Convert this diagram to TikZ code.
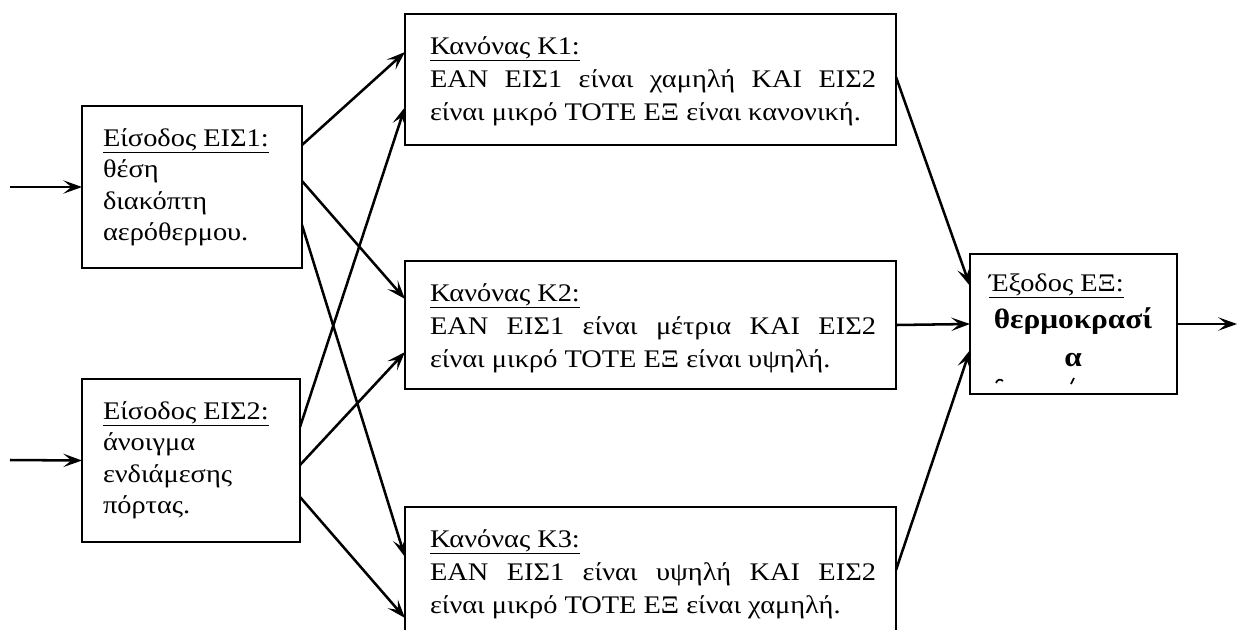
\documentclass[tikz,border=0pt]{standalone}
\usepackage{fontspec}
\setmainfont{Liberation Serif}[FakeStretch=1.12]
\usetikzlibrary{arrows.meta,calc}

\newcommand{\justline}[1]{\makebox[334.5pt][s]{#1}}

\tikzset{
  box/.style={draw, line width=1.4pt, inner sep=0pt, outer sep=0pt, anchor=north west},
  txt/.style={anchor=base west, inner sep=0pt, outer sep=0pt,
              font=\fontsize{19}{24}\selectfont},
  ctxt/.style={anchor=base, inner sep=0pt, outer sep=0pt,
              font=\fontsize{21}{24}\selectfont\bfseries},
  link/.style={line width=1.9pt, -{Stealth[length=14pt,width=10pt,inset=6pt]}},
}

\begin{document}
\begin{tikzpicture}[x=0.75pt,y=-0.75pt]
  \clip (0,0) rectangle (1237,629);

  % boxes
  \node[box, minimum width=220*0.75pt, minimum height=162*0.75pt] (in1) at (82,106) {};
  \node[box, minimum width=218*0.75pt, minimum height=163*0.75pt] (in2) at (82,379) {};
  \node[box, minimum width=491*0.75pt, minimum height=131*0.75pt] (k1) at (405,14) {};
  \node[box, minimum width=491*0.75pt, minimum height=128*0.75pt] (k2) at (405,261) {};
  \node[box, minimum width=491*0.75pt, minimum height=150*0.75pt] (k3) at (405,507) {};
  \node[box, minimum width=207*0.75pt, minimum height=140*0.75pt] (out) at (970,254) {};

  % input texts
  \node[txt] (in1a) at (103,146) {\underline{Είσοδος ΕΙΣ1:}};
  \node[txt] (in1b) at (103,177.5) {θέση};
  \node[txt] (in1c) at (103,209) {διακόπτη};
  \node[txt] (in1d) at (103,240.5) {αερόθερμου.};

  \node[txt] (in2a) at (103,419) {\underline{Είσοδος ΕΙΣ2:}};
  \node[txt] (in2b) at (103,450.5) {άνοιγμα};
  \node[txt] (in2c) at (103,482) {ενδιάμεσης};
  \node[txt] (in2d) at (103,513.5) {πόρτας.};

  % rule texts
  \node[txt] (k1a) at (430,54) {\underline{Κανόνας Κ1:}};
  \node[txt] (k1b) at (430,87) {\justline{ΕΑΝ ΕΙΣ1 είναι χαμηλή ΚΑΙ ΕΙΣ2}};
  \node[txt] (k1c) at (430,120) {είναι μικρό ΤΟΤΕ ΕΞ είναι κανονική.};

  \node[txt] (k2a) at (430,301) {\underline{Κανόνας Κ2:}};
  \node[txt] (k2b) at (430,334) {\justline{ΕΑΝ ΕΙΣ1 είναι μέτρια ΚΑΙ ΕΙΣ2}};
  \node[txt] (k2c) at (430,367) {είναι μικρό ΤΟΤΕ ΕΞ είναι υψηλή.};

  \node[txt] (k3a) at (430,547) {\underline{Κανόνας Κ3:}};
  \node[txt] (k3b) at (430,580) {\justline{ΕΑΝ ΕΙΣ1 είναι υψηλή ΚΑΙ ΕΙΣ2}};
  \node[txt] (k3c) at (430,613) {είναι μικρό ΤΟΤΕ ΕΞ είναι χαμηλή.};

  % output texts
  \node[txt] (outa) at (989,291) {\underline{Έξοδος ΕΞ:}};
  \node[ctxt] (outb) at (1073,328) {θερμοκρασί};
  \node[ctxt] (outc) at (1073,366) {α};
  % cut-off tops of the next line
  \draw[line width=1.3pt] (996,383) .. controls (997,379) and (1001,379) .. (1003,381);
  \draw[line width=1.3pt] (1071,384) -- (1074,378);

  % inputs in
  \coordinate (src1) at (10,187);
  \coordinate (src2) at (10,460);
  \draw[link] (src1) -- (in1.west);
  \draw[link] (src2) -- (in2.west);

  % inputs to rules
  \draw[link] ($(in1.north east)+(0,39)$)  -- ($(k1.north west)+(0,38)$);
  \draw[link] ($(in1.north east)+(0,75)$)  -- ($(k2.north west)+(0,38)$);
  \draw[link] ($(in1.north east)+(0,119)$) -- ($(k3.north west)+(0,50)$);
  \draw[link] ($(in2.north east)+(0,48)$)  -- ($(k1.north west)+(0,93)$);
  \draw[link] ($(in2.north east)+(0,86)$)  -- ($(k2.north west)+(0,91)$);
  \draw[link] ($(in2.north east)+(0,118)$) -- ($(k3.north west)+(0,111)$);

  % rules to output
  \draw[link] ($(k1.north east)+(0,63)$) -- ($(out.north west)+(0,32)$);
  \draw[link] (k2.east) -- (out.west);
  \draw[link] ($(k3.north east)+(0,63)$) -- ($(out.north west)+(0,96)$);

  % output out
  \coordinate (sink) at (1237,324);
  \draw[link] (out.east) -- (sink);
\end{tikzpicture}
\end{document}
